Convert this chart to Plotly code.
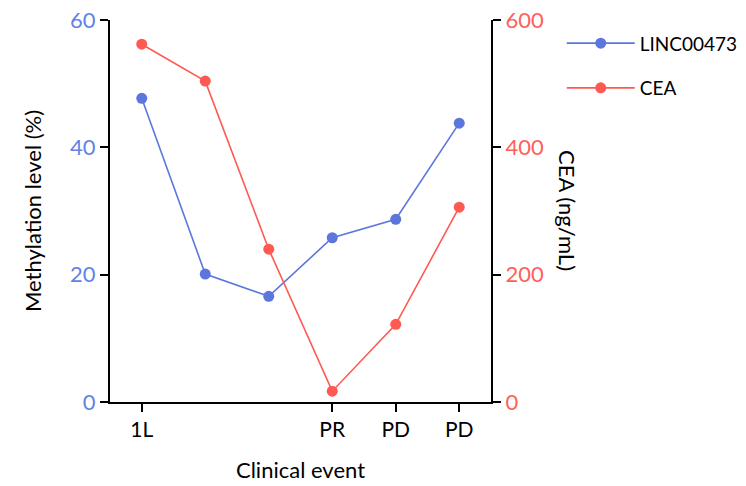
import plotly.graph_objects as go

positions = [1, 2, 3, 4, 5, 6]
tick_vals = [1, 4, 5, 6]
tick_labels = ["1L", "PR", "PD", "PD"]
linc00473 = [47.7, 20.1, 16.6, 25.8, 28.7, 43.8]
cea = [562, 504, 240, 17, 122, 306]

BLUE = "#5B77DD"
RED = "#FF5A52"
BLUE_T = "#6283E4"
RED_T = "#FF5F5A"
FONT = "Lato, 'Open Sans', sans-serif"

fig = go.Figure()
fig.add_trace(go.Scatter(x=positions, y=linc00473, name="LINC00473", mode="lines+markers",
                         line=dict(color=BLUE, width=1.6), marker=dict(color=BLUE, size=11),
                         legendgroup="a", yaxis="y"))
fig.add_trace(go.Scatter(x=positions, y=cea, name="CEA", mode="lines+markers",
                         line=dict(color=RED, width=1.6), marker=dict(color=RED, size=11),
                         legendgroup="b", yaxis="y2"))

axis_common = dict(showgrid=False, zeroline=False, showline=True, linecolor="black", linewidth=2,
                   ticks="outside", ticklen=8, tickwidth=2, tickcolor="black", automargin=False,
                   ticklabeloverflow="allow")

fig.update_layout(
    width=746, height=486,
    margin=dict(l=110, r=255, t=20, b=84),
    plot_bgcolor="white", paper_bgcolor="white",
    font=dict(family=FONT, color="black"),
    xaxis=dict(range=[0.5, 6.5], tickvals=tick_vals, ticktext=tick_labels,
               tickfont=dict(size=21, color="black"),
               title=dict(text="Clinical event", font=dict(size=22), standoff=22), **axis_common),
    yaxis=dict(range=[0, 60], tickvals=[0, 20, 40, 60],
               tickfont=dict(size=22, color=BLUE_T),
               title=dict(text="Methylation level (%)", font=dict(size=22), standoff=22), **axis_common),
    yaxis2=dict(range=[0, 600], tickvals=[0, 200, 400, 600], overlaying="y", side="right",
                tickfont=dict(size=22, color=RED_T), **axis_common),
    legend=dict(xref="container", yref="container", x=0.753, y=0.950,
                xanchor="left", yanchor="top", font=dict(size=19),
                itemwidth=68, tracegroupgap=17, traceorder="grouped", bgcolor="rgba(0,0,0,0)"),
    annotations=[dict(text="CEA (ng/mL)", xref="paper", yref="paper", x=1.202, y=0.5,
                      xanchor="center", yanchor="middle", textangle=90, showarrow=False,
                      font=dict(size=22, color="black"))],
)

fig.write_html("out.html", config={"displayModeBar": False},
               post_script="document.body.style.margin='0px';")
